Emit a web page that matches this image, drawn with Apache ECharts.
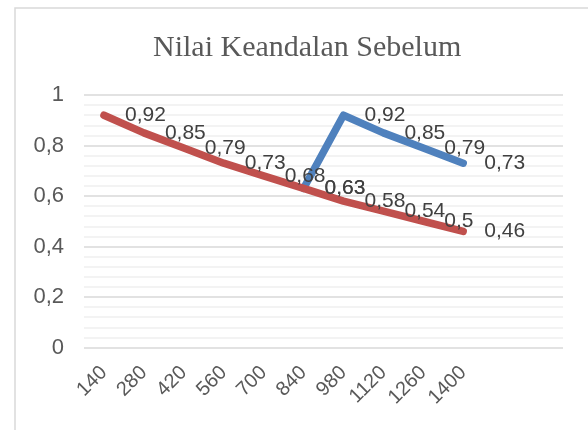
<!DOCTYPE html>
<html>
<head>
<meta charset="utf-8">
<script src="https://cdn.jsdelivr.net/npm/echarts@6/dist/echarts.min.js"></script>
<style>
  html, body { margin: 0; padding: 0; background: #fff; }
  #chart { width: 588px; height: 430px; }
</style>
</head>
<body>
<div id="chart"></div>
<script>
// kategori sumbu x (dua slot terakhir kosong seperti di Excel)
var categories = ['140', '280', '420', '560', '700', '840', '980', '1120', '1260', '1400', '', ''];
var seriesMerah = [0.92, 0.85, 0.79, 0.73, 0.68, 0.63, 0.58, 0.54, 0.5, 0.46];
var seriesBiru = [null, null, null, null, null, 0.63, 0.92, 0.85, 0.79, 0.73];

var koma = function (v) {
  return String(v).replace('.', ',');
};

var myChart = echarts.init(document.getElementById('chart'));
var labelStyle = {
  show: true,
  position: 'right',
  distance: 21,
  color: '#404040',
  fontFamily: 'Liberation Sans',
  fontSize: 21,
  formatter: function (p) { return koma(p.value); }
};

var option = {
  animation: false,
  title: {
    text: 'Nilai Keandalan Sebelum',
    left: 148,
    top: 28,
    textStyle: {
      fontFamily: 'Liberation Serif',
      fontWeight: 'normal',
      fontSize: 30,
      color: '#595959'
    }
  },
  graphic: [
    {
      type: 'rect',
      shape: { x: 15, y: 8, width: 600, height: 450 },
      style: { fill: 'none', stroke: '#d9d9d9', lineWidth: 1.5 },
      z: -1
    }
  ],
  grid: { left: 84, right: 25, top: 95, bottom: 82.5, outerBoundsMode: 'none', containLabel: false },
  xAxis: {
    type: 'category',
    data: categories,
    boundaryGap: true,
    axisLine: { show: false },
    axisTick: { show: false },
    axisLabel: {
      interval: 0,
      rotate: 45,
      margin: 22,
      color: '#595959',
      fontFamily: 'Liberation Sans',
      fontSize: 20
    }
  },
  yAxis: {
    type: 'value',
    min: 0,
    max: 1,
    interval: 0.2,
    axisLine: { show: false },
    axisTick: { show: false },
    axisLabel: {
      margin: 20,
      color: '#595959',
      fontFamily: 'Liberation Sans',
      fontSize: 22,
      formatter: koma
    },
    splitLine: { lineStyle: { color: '#d9d9d9', width: 1.5 } },
    minorTick: { show: false, splitNumber: 5 },
    minorSplitLine: { show: true, lineStyle: { color: '#efefef', width: 1.5 } }
  },
  series: [
    {
      name: 'biru',
      type: 'line',
      data: seriesBiru,
      symbol: 'circle',
      symbolSize: 0.1,
      showSymbol: true,
      itemStyle: { color: '#4F81BD' },
      lineStyle: { color: '#4F81BD', width: 7.5, cap: 'round', join: 'round' },
      label: labelStyle,
      z: 2
    },
    {
      name: 'merah',
      type: 'line',
      data: seriesMerah,
      symbol: 'circle',
      symbolSize: 0.1,
      showSymbol: true,
      itemStyle: { color: '#C0504D' },
      lineStyle: { color: '#C0504D', width: 7.5, cap: 'round', join: 'round' },
      label: labelStyle,
      z: 3
    }
  ]
};
myChart.setOption(option);
</script>
</body>
</html>
